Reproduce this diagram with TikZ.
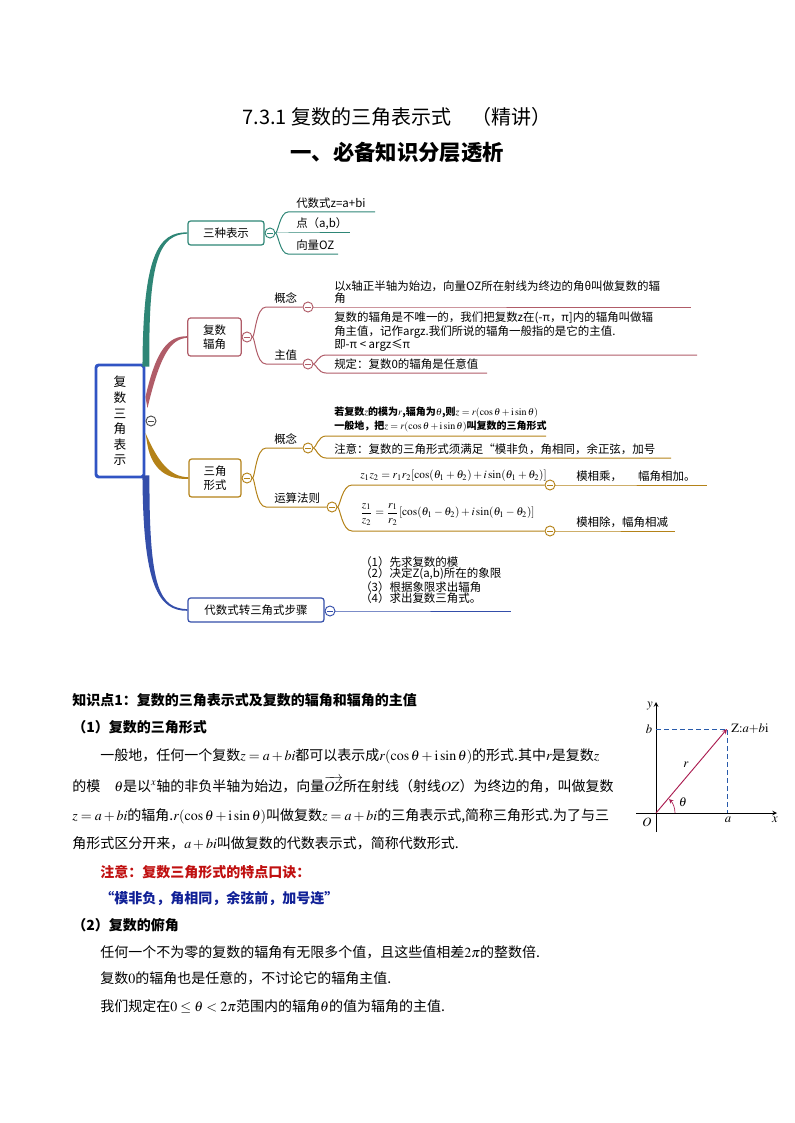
\documentclass[tikz,border=0pt]{standalone}
\usepackage{amsmath}
\usepackage{mathptmx}
\usepackage[no-math]{fontspec}
\setmainfont{Noto Sans CJK SC}
\usetikzlibrary{arrows}
\definecolor{tealc}{RGB}{46,134,118}
\definecolor{rosec}{RGB}{176,92,104}
\definecolor{goldc}{RGB}{180,130,24}
\definecolor{bluec}{RGB}{52,78,170}
\definecolor{rootc}{RGB}{48,84,196}
\definecolor{vecc}{RGB}{170,28,80}
\definecolor{dashc}{RGB}{40,90,170}
\definecolor{notec}{RGB}{192,16,16}
\definecolor{quotec}{RGB}{16,32,150}
\newcommand{\mmfont}{\fontsize{8.6}{8.8}\selectfont}
\newcommand{\boxfont}{\fontsize{8.6}{10.5}\selectfont}
\newcommand{\smallbold}{\fontsize{7.5}{10.5}\selectfont\bfseries}
\newcommand{\formfont}{\fontsize{8.5}{10}\selectfont}
\newcommand{\bodyfont}{\fontsize{10.5}{12}\selectfont}

\begin{document}
\begin{tikzpicture}[x=0.75pt,y=-0.75pt,>=stealth,
  mbox/.style={draw=#1,rounded corners=2pt,line width=0.9pt,fill=white,align=center,font=\boxfont,inner sep=1pt},
  fold/.style={circle,draw=#1,fill=white,line width=0.7pt,minimum size=7.5pt,inner sep=0pt,
    path picture={\draw[#1,line width=0.7pt] ([xshift=-2.2pt]path picture bounding box.center) -- ([xshift=2.2pt]path picture bounding box.center);}},
  topic/.style={anchor=south west,inner xsep=6pt,inner ysep=2.5pt,font=\mmfont},
  leaf/.style={anchor=south west,inner xsep=6pt,inner ysep=2.5pt,align=left,font=\mmfont},
  twig/.style={draw=#1,line width=0.75pt},
  body/.style={anchor=base west,inner sep=0pt,font=\bodyfont},
  axis/.style={->,line width=0.6pt},
  lbl/.style={inner sep=0pt,font=\fontsize{9.5}{10}\selectfont}]
\useasboundingbox (0,0) rectangle (794,1123);

\node[font=\fontsize{15}{15}\selectfont] (title) at (397,117) {7.3.1 复数的三角表示式\quad（精讲）};
\node[font=\fontsize{16}{16}\selectfont\bfseries] (part) at (397,153) {一、必备知识分层透析};

\node[draw=rootc,line width=2.2pt,rounded corners=2pt,minimum width=36pt,minimum height=84pt,align=center,font=\fontsize{9.5}{11.7}\selectfont] (root) at (120,421) {复\\数\\三\\角\\表\\示};
\node[fold=black!70] (rootf) at (151,421) {};

\node[mbox=tealc,minimum width=57pt,minimum height=18pt] (rep) at (226,233) {三种表示};
\node[fold=tealc] (repf) at (270,233) {};
\node[mbox=rosec,minimum width=40pt,minimum height=28.5pt] (arg) at (214.5,337) {复数\\辐角};
\node[fold=rosec] (argf) at (247,337) {};
\node[mbox=goldc,minimum width=39pt,minimum height=28.5pt] (tri) at (215,478) {三角\\形式};
\node[fold=goldc] (trif) at (247,478) {};
\node[mbox=bluec,minimum width=102pt,minimum height=18pt] (stp) at (256,610) {代数式转三角式步骤};
\node[fold=bluec] (stpf) at (330,611) {};

\fill[tealc] ([shift={(-3,3)}]root.north east) .. controls (143,255) and (158,232) .. ([yshift=0.5pt]rep.west) -- ([yshift=-0.5pt]rep.west) .. controls (160,234.5) and (148,258) .. ([shift={(4,3)}]root.north east) -- cycle;
\fill[rosec] ([shift={(0,-24)}]root.east) .. controls (156,350) and (168,336) .. ([yshift=0.6pt]arg.west) -- ([yshift=-0.6pt]arg.west) .. controls (170,339) and (160,356) .. ([shift={(2,-13)}]root.east) -- cycle;
\fill[goldc] ([shift={(0,12)}]root.east) .. controls (158,462) and (170,477) .. ([yshift=0.6pt]tri.west) -- ([yshift=-0.6pt]tri.west) .. controls (168,480) and (152,470) .. ([shift={(2,24)}]root.east) -- cycle;
\fill[bluec] ([shift={(-3,-3)}]root.south east) .. controls (143,585) and (158,611) .. ([yshift=-0.6pt]stp.west) -- ([yshift=0.6pt]stp.west) .. controls (160,608) and (149,590) .. ([shift={(4,-3)}]root.south east) -- cycle;

\node[leaf] (alg) at (288,212) {代数式z=a+bi};
\node[leaf] (pnt) at (288,233) {点（a,b）};
\node[leaf] (vec) at (288,254) {向量OZ};
\draw[twig=tealc] (repf) .. controls +(8,0) and +(-8,0) .. (alg.south west) -- ++(87,0);
\draw[twig=tealc] (repf) -- (pnt.south west) -- ++(62,0);
\draw[twig=tealc] (repf) .. controls +(8,0) and +(-8,0) .. (vec.south west) -- ++(50,0);

\node[topic] (con1) at (266,307) {概念};
\node[fold=rosec] (con1f) at (308,307) {};
\node[topic] (main1) at (266,364) {主值};
\node[fold=rosec] (main1f) at (308,364) {};
\draw[twig=rosec] (argf) .. controls +(8,0) and +(-10,0) .. (con1.south west) -- (con1f);
\draw[twig=rosec] (argf) .. controls +(8,0) and +(-10,0) .. (main1.south west) -- (main1f);
\node[leaf] (def1) at (326,307) {以x轴正半轴为始边，向量OZ所在射线为终边的角θ叫做复数的辐\\角};
\draw[twig=rosec] (con1f) -- (def1.south west) -- ++(365,0);
\node[leaf] (def2) at (326,355) {复数的辐角是不唯一的，我们把复数z在(-π，π]内的辐角叫做辐\\角主值，记作argz.我们所说的辐角一般指的是它的主值.\\即-π < argz≤π};
\draw[twig=rosec] (main1f) .. controls +(8,0) and +(-8,0) .. (def2.south west) -- ++(371,0);
\node[leaf] (def3) at (326,373) {规定：复数0的辐角是任意值};
\draw[twig=rosec] (main1f) .. controls +(8,0) and +(-8,0) .. (def3.south west) -- ++(161,0);

\node[topic] (con2) at (266,448) {概念};
\node[fold=goldc] (con2f) at (308,448) {};
\node[topic] (rule) at (266,507) {运算法则};
\node[fold=goldc] (rulef) at (332,507) {};
\draw[twig=goldc] (trif) .. controls +(8,0) and +(-10,0) .. (con2.south west) -- (con2f);
\draw[twig=goldc] (trif) .. controls +(8,0) and +(-10,0) .. (rule.south west) -- (rulef);
\node[leaf,font=\smallbold] (form1) at (326,436) {若复数$z$的模为$r$,辐角为$\theta$,则$z=r(\cos\theta+\mathrm{i}\sin\theta)$\\一般地，把$z=r(\cos\theta+\mathrm{i}\sin\theta)$叫复数的三角形式};
\draw[twig=goldc] (con2f) .. controls +(8,0) and +(-8,0) .. (form1.south west) -- ++(220,0);
\node[leaf] (note1) at (326,458) {注意：复数的三角形式须满足“模非负，角相同，余正弦，加号};
\draw[twig=goldc] (con2f) .. controls +(8,0) and +(-8,0) .. (note1.south west) -- ++(345,0);

\node[leaf,font=\formfont] (mul) at (352,485) {$z_1z_2=r_1r_2[\cos(\theta_1+\theta_2)+i\sin(\theta_1+\theta_2)]$};
\node[fold=goldc] (mulf) at (550,485) {};
\draw[twig=goldc] (rulef) .. controls +(8,0) and +(-10,0) .. (mul.south west) -- (mulf);
\node[leaf,font=\formfont,inner ysep=4pt] (div) at (352,531) {$\dfrac{z_1}{z_2}=\dfrac{r_1}{r_2}[\cos(\theta_1-\theta_2)+i\sin(\theta_1-\theta_2)]$};
\node[fold=goldc] (divf) at (550,531) {};
\draw[twig=goldc] (rulef) .. controls +(8,0) and +(-10,0) .. (div.south west) -- (divf);
\node[leaf] (mulr) at (568,485) {模相乘，\hspace{12pt}幅角相加。};
\draw[twig=goldc] (mulf) -- (mulr.south west) -- ++(139,0);
\node[leaf] (divr) at (568,531) {模相除，幅角相减};
\draw[twig=goldc] (divf) -- (divr.south west) -- ++(107,0);

\node[leaf,inner ysep=5pt] (steps) at (352,611) {（1）先求复数的模\\（2）决定Z(a,b)所在的象限\\（3）根据象限求出辐角\\（4）求出复数三角式。};
\draw[twig=bluec] (stpf) -- (steps.south west) -- ++(159,0);

\node[body,font=\bodyfont\bfseries] (k1) at (72,705) {知识点1：复数的三角表示式及复数的辐角和辐角的主值};
\node[body,font=\bodyfont\bfseries] (k2) at (72,732) {（1）复数的三角形式};
\node[body] (p1) at (100,760) {一般地，任何一个复数$z=a+bi$都可以表示成$r(\cos\theta+\mathrm{i}\sin\theta)$的形式.其中$r$是复数$z$};
\node[body] (p2) at (72,791) {的模\quad$\theta$是以$^{x}$轴的非负半轴为始边，向量$\smash{\overrightarrow{OZ}}$所在射线（射线$OZ$）为终边的角，叫做复数};
\node[body] (p3) at (72,820) {$z=a+bi$的辐角.$r(\cos\theta+\mathrm{i}\sin\theta)$叫做复数$z=a+bi$的三角表示式,简称三角形式.为了与三};
\node[body] (p4) at (72,848) {角形式区分开来，$a+bi$叫做复数的代数表示式，简称代数形式.};
\node[body,font=\bodyfont\bfseries,text=notec] (n1) at (100,877) {注意：复数三角形式的特点口诀：};
\node[body,font=\bodyfont\bfseries,text=quotec] (n2) at (100,903) {“模非负，角相同，余弦前，加号连”};
\node[body,font=\bodyfont\bfseries] (k3) at (72,930) {（2）复数的俯角};
\node[body] (q1) at (100,957) {任何一个不为零的复数的辐角有无限多个值，且这些值相差$2\pi$的整数倍.};
\node[body] (q2) at (100,983) {复数$0$的辐角也是任意的，不讨论它的辐角主值.};
\node[body] (q3) at (100,1011) {我们规定在$0\le\theta<2\pi$范围内的辐角$\theta$的值为辐角的主值.};

\coordinate (O) at (656,813);
\coordinate (xs) at (636,813);
\coordinate (xe) at (777,813);
\coordinate (ys) at (656,832);
\coordinate (ye) at (656,702);
\coordinate (Z) at (727,729);
\coordinate (A) at (727,813);
\coordinate (B) at (656,729);
\coordinate (t1) at (675,813);
\coordinate (t2) at (669,799);
\draw[axis] (xs) -- (xe);
\draw[axis] (ys) -- (ye);
\draw[dashc,dash pattern=on 3.5pt off 2.5pt,line width=0.6pt] (B) -- (Z) -- (A);
\draw[vecc,->,line width=0.7pt] (O) -- (Z);
\draw[vecc,->,line width=0.5pt] (t1) .. controls (675,808) and (673,803) .. (t2);
\node[lbl] (ylab) at (650,706) {$y$};
\node[lbl] (xlab) at (775,820) {$x$};
\node[lbl] (olab) at (647,822) {$O$};
\node[lbl] (alab) at (728,820) {$a$};
\node[lbl] (blab) at (649,729) {$b$};
\node[lbl,anchor=west] (zlab) at (731,729) {$\mathrm{Z}{:}a{+}b\mathrm{i}$};
\node[lbl] (rlab) at (686,765) {$r$};
\node[lbl] (tlab) at (683,802) {$\theta$};
\end{tikzpicture}
\end{document}
